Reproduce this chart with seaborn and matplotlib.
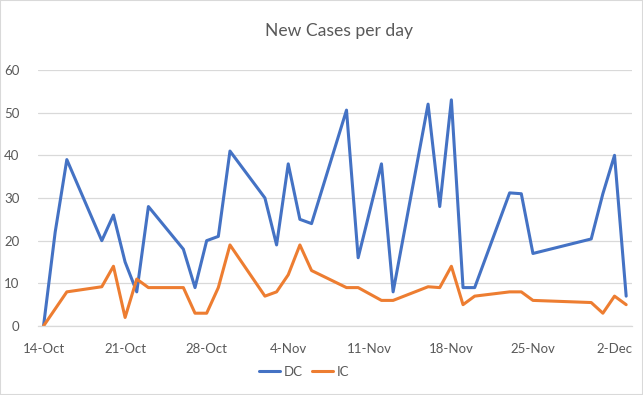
import pandas as pd
import seaborn as sns
import matplotlib.pyplot as plt
import matplotlib.dates as mdates
from matplotlib.patches import Rectangle

dates = ['2020-10-14', '2020-10-15', '2020-10-16', '2020-10-19', '2020-10-20',
         '2020-10-21', '2020-10-22', '2020-10-23', '2020-10-26', '2020-10-27',
         '2020-10-28', '2020-10-29', '2020-10-30', '2020-11-02', '2020-11-03',
         '2020-11-04', '2020-11-05', '2020-11-06', '2020-11-09', '2020-11-10',
         '2020-11-12', '2020-11-13', '2020-11-16', '2020-11-17', '2020-11-18',
         '2020-11-19', '2020-11-20', '2020-11-23', '2020-11-24', '2020-11-25',
         '2020-11-30', '2020-12-01', '2020-12-02', '2020-12-03']
dc = [0, 22, 39, 20, 26, 15, 8, 28, 18, 9,
      20, 21, 41, 30, 19, 38, 25, 24, 50.6, 16,
      38, 8, 52, 28, 53, 9, 9, 31.2, 31, 17,
      20.4, 31, 40, 7]
ic = [0, 4, 8, 9.2, 14, 2, 11, 9, 9, 3,
      3, 9, 19, 7, 8, 12, 19, 13, 9, 9,
      6, 6, 9.2, 9, 14, 5, 7, 8, 8, 6,
      5.5, 3, 7, 5]
week_ticks = ['2020-10-14', '2020-10-21', '2020-10-28', '2020-11-04',
              '2020-11-11', '2020-11-18', '2020-11-25', '2020-12-02']

df = pd.DataFrame({'date': pd.to_datetime(dates), 'DC': dc, 'IC': ic})
long = df.melt(id_vars='date', var_name='series', value_name='cases')

sns.set_style('white')
plt.rcParams['font.family'] = ['Lato', 'DejaVu Sans']

fig = plt.figure(figsize=(6.43, 3.95), dpi=100)
ax = fig.add_axes([37.7 / 643, 1 - 326 / 395, (632 - 37.7) / 643, 256 / 395])
sns.lineplot(data=long, x='date', y='cases', hue='series',
             palette={'DC': '#4472C4', 'IC': '#ED7D31'}, linewidth=2.2, ax=ax)

half = pd.Timedelta(hours=12)
ax.set_xlim(pd.Timestamp('2020-10-14') - half, pd.Timestamp('2020-12-03') + half)
ax.set_ylim(0, 60)
ax.set_yticks(range(0, 61, 10))
ax.grid(axis='y', color='#d9d9d9', linewidth=0.9)
ax.grid(axis='x', visible=False)

major = pd.to_datetime(week_ticks)
ax.set_xticks(major)
ax.xaxis.set_major_formatter(mdates.DateFormatter('%-d-%b'))
ax.set_xticks([d - half for d in major], minor=True)
ax.tick_params(axis='x', which='major', length=0, pad=12, labelsize=9.5, labelcolor='#595959')
ax.tick_params(axis='x', which='minor', length=5, width=0.9, color='#d9d9d9')
ax.tick_params(axis='y', length=0, pad=13, labelsize=9.5, labelcolor='#595959')

for s in ['top', 'right', 'left']:
    ax.spines[s].set_visible(False)
ax.spines['bottom'].set_color('#d9d9d9')
ax.spines['bottom'].set_linewidth(0.9)
ax.set_xlabel('')
ax.set_ylabel('')

fig.text(339 / 643, 1 - 31 / 395, 'New Cases per day', ha='center', va='center',
         fontsize=12.6, color='#595959')

ax.legend(loc='center', bbox_to_anchor=(304 / 643, 1 - 372 / 395),
          bbox_transform=fig.transFigure, ncol=2, frameon=False,
          fontsize=9.5, handlelength=1.6, handletextpad=0.3, columnspacing=0.7,
          labelcolor='#595959')

fig.patches.append(Rectangle((0, 0), 1, 1, transform=fig.transFigure, fill=False,
                             edgecolor='#d9d9d9', linewidth=1.5))

fig.savefig('out.png', dpi=100)
